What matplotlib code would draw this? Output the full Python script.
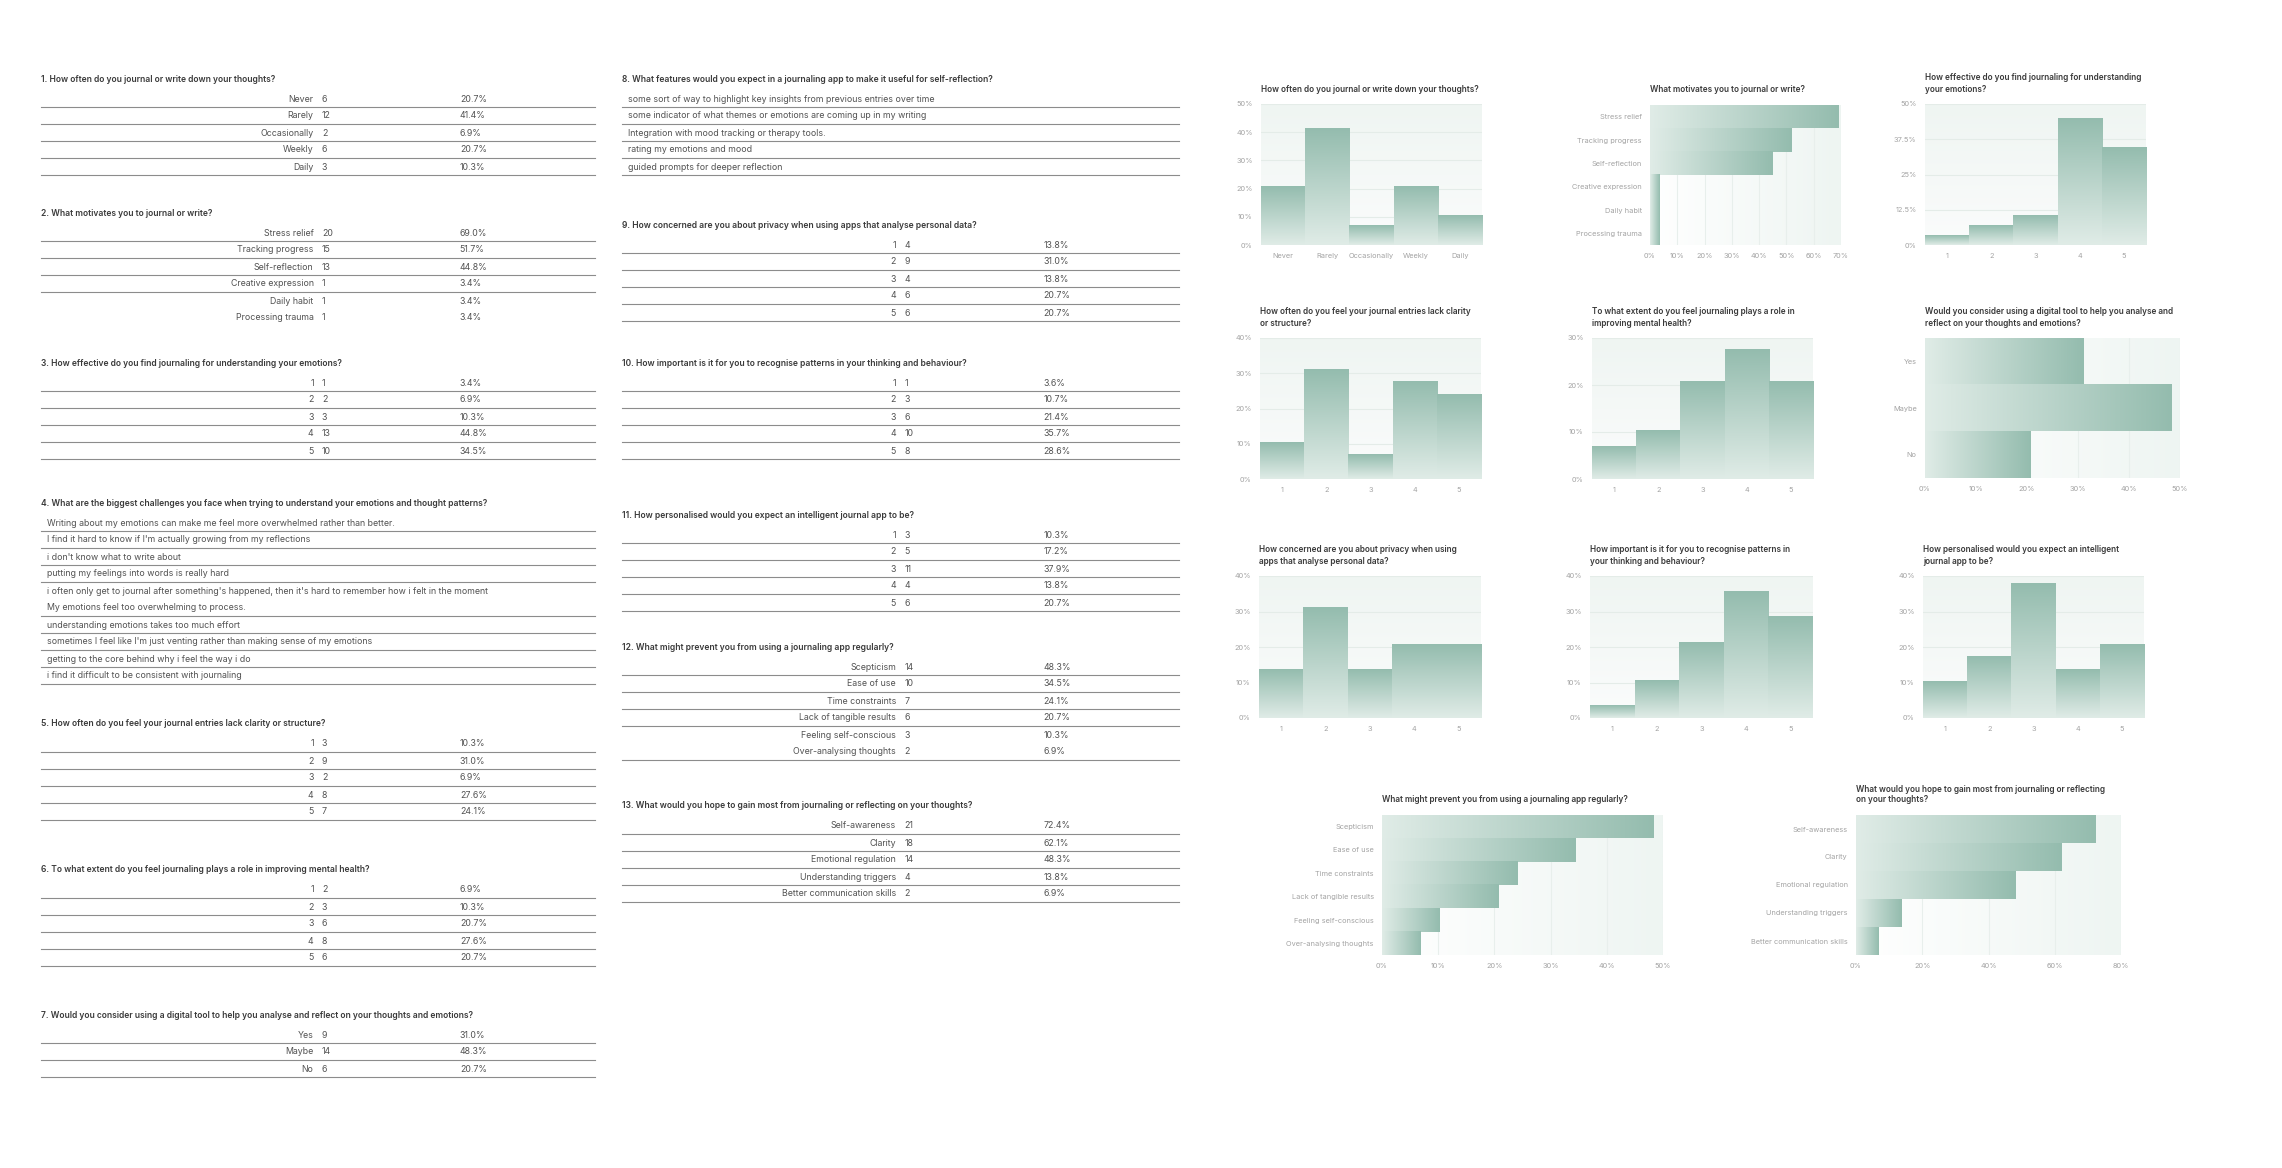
import numpy as np
import matplotlib
matplotlib.use('Agg')
import matplotlib.pyplot as plt
from matplotlib.colors import LinearSegmentedColormap

plt.rcParams['font.family'] = ['Inter', 'DejaVu Sans']

# ---- survey data ----
q1_title = '1. How often do you journal or write down your thoughts?'
q1_labels = ['Never', 'Rarely', 'Occasionally', 'Weekly', 'Daily']
q1_counts = [6, 12, 2, 6, 3]
q1_pct = [20.7, 41.4, 6.9, 20.7, 10.3]

q2_title = '2. What motivates you to journal or write?'
q2_labels = ['Stress relief', 'Tracking progress', 'Self-reflection', 'Creative expression',
             'Daily habit', 'Processing trauma']
q2_counts = [20, 15, 13, 1, 1, 1]
q2_pct = [69.0, 51.7, 44.8, 3.4, 3.4, 3.4]

q3_title = '3. How effective do you find journaling for understanding your emotions?'
scale_labels = ['1', '2', '3', '4', '5']
q3_counts = [1, 2, 3, 13, 10]
q3_pct = [3.4, 6.9, 10.3, 44.8, 34.5]

q4_title = '4. What are the biggest challenges you face when trying to understand your emotions and thought patterns?'
q4_answers = [
    'Writing about my emotions can make me feel more overwhelmed rather than better.',
    "I find it hard to know if I'm actually growing from my reflections",
    "i don't know what to write about",
    'putting my feelings into words is really hard',
    "i often only get to journal after something's happened, then it's hard to remember how i felt in the moment",
    'My emotions feel too overwhelming to process.',
    'understanding emotions takes too much effort',
    "sometimes I feel like I'm just venting rather than making sense of my emotions",
    'getting to the core behind why i feel the way i do',
    'i find it difficult to be consistent with journaling',
]

q5_title = '5. How often do you feel your journal entries lack clarity or structure?'
q5_counts = [3, 9, 2, 8, 7]
q5_pct = [10.3, 31.0, 6.9, 27.6, 24.1]

q6_title = '6. To what extent do you feel journaling plays a role in improving mental health?'
q6_counts = [2, 3, 6, 8, 6]
q6_pct = [6.9, 10.3, 20.7, 27.6, 20.7]

q7_title = '7. Would you consider using a digital tool to help you analyse and reflect on your thoughts and emotions?'
q7_labels = ['Yes', 'Maybe', 'No']
q7_counts = [9, 14, 6]
q7_pct = [31.0, 48.3, 20.7]

q8_title = '8. What features would you expect in a journaling app to make it useful for self-reflection?'
q8_answers = [
    'some sort of way to highlight key insights from previous entries over time',
    'some indicator of what themes or emotions are coming up in my writing',
    'Integration with mood tracking or therapy tools.',
    'rating my emotions and mood',
    'guided prompts for deeper reflection',
]

q9_title = '9. How concerned are you about privacy when using apps that analyse personal data?'
q9_counts = [4, 9, 4, 6, 6]
q9_pct = [13.8, 31.0, 13.8, 20.7, 20.7]

q10_title = '10. How important is it for you to recognise patterns in your thinking and behaviour?'
q10_counts = [1, 3, 6, 10, 8]
q10_pct = [3.6, 10.7, 21.4, 35.7, 28.6]

q11_title = '11. How personalised would you expect an intelligent journal app to be?'
q11_counts = [3, 5, 11, 4, 6]
q11_pct = [10.3, 17.2, 37.9, 13.8, 20.7]

q12_title = '12. What might prevent you from using a journaling app regularly?'
q12_labels = ['Scepticism', 'Ease of use', 'Time constraints', 'Lack of tangible results',
              'Feeling self-conscious', 'Over-analysing thoughts']
q12_counts = [14, 10, 7, 6, 3, 2]
q12_pct = [48.3, 34.5, 24.1, 20.7, 10.3, 6.9]

q13_title = '13. What would you hope to gain most from journaling or reflecting on your thoughts?'
q13_labels = ['Self-awareness', 'Clarity', 'Emotional regulation', 'Understanding triggers',
              'Better communication skills']
q13_counts = [21, 18, 14, 4, 2]
q13_pct = [72.4, 62.1, 48.3, 13.8, 6.9]

W, H = 2282, 1168
fig = plt.figure(figsize=(W / 100, H / 100), dpi=100)
fig.patch.set_facecolor('white')

# overlay in pixel coordinates for the tables and chart titles
tab = fig.add_axes([0, 0, 1, 1])
tab.set_xlim(0, W)
tab.set_ylim(H, 0)
tab.axis('off')

TITLE_C = '#3a3a3a'
ROW_C = '#525252'
LINE_C = '#8c8c8c'
TICK_C = '#a3a3a3'
ROW_FS = 6.35
TITLE_FS = 6.1
CHART_TITLE_FS = 5.9


def count_table(x0, x1, ytitle, title, labels, counts, pcts, no_line=()):
    w = x1 - x0
    tab.text(x0, ytitle, title, fontsize=TITLE_FS, color=TITLE_C, weight='semibold', va='center')
    for i, (lab, c, p) in enumerate(zip(labels, counts, pcts)):
        y = ytitle + 20 + i * 17
        tab.text(x0 + 0.492 * w, y, lab, fontsize=ROW_FS, color=ROW_C, ha='right', va='center')
        tab.text(x0 + 0.507 * w, y, str(c), fontsize=ROW_FS, color=ROW_C, va='center')
        tab.text(x0 + 0.756 * w, y, f'{p:.1f}%', fontsize=ROW_FS, color=ROW_C, va='center')
        if i not in no_line:
            tab.plot([x0, x1], [y + 8, y + 8], color=LINE_C, lw=0.8)


def text_table(x0, x1, ytitle, title, answers, no_line=()):
    tab.text(x0, ytitle, title, fontsize=TITLE_FS, color=TITLE_C, weight='semibold', va='center')
    for i, a in enumerate(answers):
        y = ytitle + 20 + i * 17
        tab.text(x0 + 6, y, a, fontsize=ROW_FS, color=ROW_C, va='center')
        if i not in no_line:
            tab.plot([x0, x1], [y + 8, y + 8], color=LINE_C, lw=0.8)


LX0, LX1 = 41, 595
MX0, MX1 = 622, 1179
count_table(LX0, LX1, 79, q1_title, q1_labels, q1_counts, q1_pct)
count_table(LX0, LX1, 213, q2_title, q2_labels, q2_counts, q2_pct, no_line=(4, 5))
count_table(LX0, LX1, 363, q3_title, scale_labels, q3_counts, q3_pct)
text_table(LX0, LX1, 503, q4_title, q4_answers, no_line=(4,))
count_table(LX0, LX1, 724, q5_title, scale_labels, q5_counts, q5_pct)
count_table(LX0, LX1, 870, q6_title, scale_labels, q6_counts, q6_pct)
count_table(LX0, LX1, 1015, q7_title, q7_labels, q7_counts, q7_pct)

text_table(MX0, MX1, 79, q8_title, q8_answers)
count_table(MX0, MX1, 225, q9_title, scale_labels, q9_counts, q9_pct)
count_table(MX0, MX1, 363, q10_title, scale_labels, q10_counts, q10_pct)
count_table(MX0, MX1, 515, q11_title, scale_labels, q11_counts, q11_pct)
count_table(MX0, MX1, 647, q12_title, q12_labels, q12_counts, q12_pct, no_line=(4,))
count_table(MX0, MX1, 806, q13_title, q13_labels, q13_counts, q13_pct)

# ---- charts ----
bar_cmap = LinearSegmentedColormap.from_list('bar', ['#e0ece7', '#94bcae'])
bg_v = LinearSegmentedColormap.from_list('bgv', ['#fbfcfc', '#eff5f2'])
bg_h = LinearSegmentedColormap.from_list('bgh', ['#ffffff', '#eef5f2'])
grad = np.linspace(0, 1, 256)


def chart_axes(l, r, t, b, title_lines):
    ax = fig.add_axes([l / W, 1 - b / H, (r - l) / W, (b - t) / H])
    for s in ax.spines.values():
        s.set_visible(False)
    ax.tick_params(length=0, labelsize=5.3, labelcolor=TICK_C, pad=6)
    n = len(title_lines)
    for i, line in enumerate(title_lines):
        tab.text(l, t - 15 - (n - 1 - i) * 11, line, fontsize=CHART_TITLE_FS, color=TITLE_C,
                 weight='semibold', va='center')
    return ax


def vbar_chart(l, r, t, b, title_lines, cats, vals, ymax, ticks, ticklabels):
    ax = chart_axes(l, r, t, b, title_lines)
    ax.imshow(grad.reshape(-1, 1), cmap=bg_v, extent=(0, 1, 0, 1), transform=ax.transAxes,
              origin='lower', aspect='auto', zorder=0)
    bars = ax.bar(range(len(cats)), vals, width=1.0, color='none', zorder=2)
    for bar in bars:
        x, w, h = bar.get_x(), bar.get_width(), bar.get_height()
        ax.imshow(grad.reshape(-1, 1), cmap=bar_cmap, extent=(x, x + w, 0, h),
                  origin='lower', aspect='auto', zorder=2)
    ax.set_xlim(-0.5, len(cats) - 0.5)
    ax.set_ylim(0, ymax)
    ax.set_xticks(range(len(cats)))
    ax.set_xticklabels(cats)
    ax.set_yticks(ticks)
    ax.set_yticklabels(ticklabels)
    ax.yaxis.grid(True, color='#e4ece8', lw=0.8)
    ax.set_axisbelow(True)
    return ax


def hbar_chart(l, r, t, b, title_lines, cats, vals, xmax, ticks):
    ax = chart_axes(l, r, t, b, title_lines)
    ax.imshow(grad.reshape(1, -1), cmap=bg_h, extent=(0, 1, 0, 1), transform=ax.transAxes,
              origin='lower', aspect='auto', zorder=0)
    bars = ax.barh(range(len(cats)), vals, height=1.0, color='none', zorder=2)
    for bar in bars:
        y, h, w = bar.get_y(), bar.get_height(), bar.get_width()
        ax.imshow(grad.reshape(1, -1), cmap=bar_cmap, extent=(0, w, y, y + h),
                  origin='lower', aspect='auto', zorder=2)
    ax.set_ylim(len(cats) - 0.5, -0.5)
    ax.set_xlim(0, xmax)
    ax.set_yticks(range(len(cats)))
    ax.set_yticklabels(cats)
    ax.set_xticks(ticks)
    ax.set_xticklabels([f'{v:g}%' for v in ticks])
    ax.xaxis.grid(True, color='#e8efec', lw=0.8)
    ax.set_axisbelow(True)
    return ax


def pct_labels(ticks):
    return [f'{v:g}%' for v in ticks]


t50 = [0, 10, 20, 30, 40, 50]
t40 = [0, 10, 20, 30, 40]
t30 = [0, 10, 20, 30]
t125 = [0, 12.5, 25, 37.5, 50]

vbar_chart(1261, 1482, 104, 245, [q1_title[3:]], q1_labels, q1_pct, 50, t50, pct_labels(t50))
hbar_chart(1650, 1841, 105, 245, [q2_title[3:]], q2_labels, q2_pct, 70, [0, 10, 20, 30, 40, 50, 60, 70])
vbar_chart(1925, 2146, 104, 245, ['How effective do you find journaling for understanding', 'your emotions?'],
           scale_labels, q3_pct, 50, t125, pct_labels(t125))

vbar_chart(1260, 1481, 338, 479, ['How often do you feel your journal entries lack clarity', 'or structure?'],
           scale_labels, q5_pct, 40, t40, pct_labels(t40))
vbar_chart(1592, 1813, 338, 479, ['To what extent do you feel journaling plays a role in', 'improving mental health?'],
           scale_labels, q6_pct, 30, t30, pct_labels(t30))
hbar_chart(1925, 2180, 338, 478, ['Would you consider using a digital tool to help you analyse and',
                                  'reflect on your thoughts and emotions?'],
           q7_labels, q7_pct, 50, t50)

vbar_chart(1259, 1481, 576, 718, ['How concerned are you about privacy when using', 'apps that analyse personal data?'],
           scale_labels, q9_pct, 40, t40, pct_labels(t40))
vbar_chart(1590, 1813, 576, 718, ['How important is it for you to recognise patterns in', 'your thinking and behaviour?'],
           scale_labels, q10_pct, 40, t40, pct_labels(t40))
vbar_chart(1923, 2144, 576, 718, ['How personalised would you expect an intelligent', 'journal app to be?'],
           scale_labels, q11_pct, 40, t40, pct_labels(t40))

hbar_chart(1382, 1663, 815, 955, [q12_title[4:]], q12_labels, q12_pct, 50, t50)
hbar_chart(1856, 2121, 815, 955, ['What would you hope to gain most from journaling or reflecting',
                                  'on your thoughts?'],
           q13_labels, q13_pct, 80, [0, 20, 40, 60, 80])

fig.savefig('out.png', dpi=100, facecolor='white')
